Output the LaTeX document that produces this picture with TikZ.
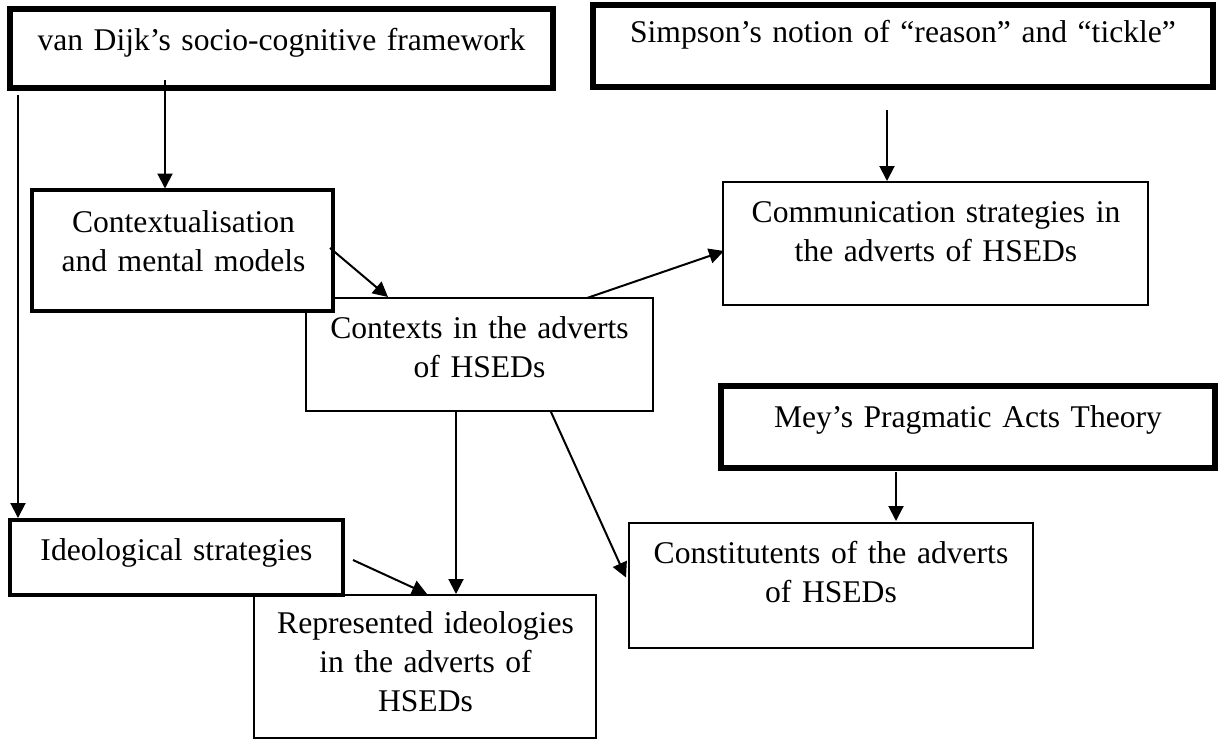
\documentclass[tikz,border=0pt]{standalone}
\usepackage{fontspec}
\setmainfont{Liberation Serif}
\usetikzlibrary{arrows.meta,calc}
\begin{document}
\begin{tikzpicture}[x=0.5pt,y=-0.5pt,
  box/.style={draw=black, fill=white, rectangle, inner sep=0pt, outer sep=0pt},
  thinbox/.style={box, line width=1pt},
  midbox/.style={box, line width=2pt},
  heavybox/.style={box, line width=3pt},
  txt/.style={inner sep=0pt, anchor=base, align=center, text width=260pt, font=\fontsize{15.8}{19.5}\selectfont},
  arr/.style={line width=1pt, -{Triangle[length=7.5pt,width=7.5pt]}}]
\useasboundingbox[fill=white] (0,0) rectangle (1225,740);
% boxes
\node[heavybox, minimum width=271.5pt, minimum height=39.5pt] (A) at (281.5,48.5) {};
\node[heavybox, minimum width=310pt, minimum height=41pt] (B) at (903,46) {};
\node[thinbox, minimum width=173.5pt, minimum height=56.5pt] (D) at (479.5,354.5) {};
\node[midbox, minimum width=150.5pt, minimum height=60.5pt] (C) at (182.5,250.5) {};
\node[thinbox, minimum width=212.5pt, minimum height=61.5pt] (F) at (935.5,243.5) {};
\node[heavybox, minimum width=247pt, minimum height=41pt] (G) at (968,427) {};
\node[thinbox, minimum width=171pt, minimum height=71.5pt] (H) at (425,666.5) {};
\node[midbox, minimum width=166.5pt, minimum height=37.5pt] (E) at (176.5,557.5) {};
\node[thinbox, minimum width=202pt, minimum height=62.5pt] (I) at (831,585.5) {};
% texts
\node[txt] (At) at (281.5,50) {van Dijk’s socio-cognitive framework};
\node[txt, text width=300pt] (Bt) at (903,42) {Simpson’s notion of “reason” and “tickle”};
\node[txt] (Ct) at (183.5,232) {Contextualisation\\and mental models};
\node[txt] (Dt) at (479.5,338) {Contexts in the adverts\\of HSEDs};
\node[txt] (Ft) at (936,222) {Communication strategies in\\the adverts of HSEDs};
\node[txt] (Gt) at (968,427) {Mey’s Pragmatic Acts Theory};
\node[txt] (Et) at (176.5,560) {Ideological strategies};
\node[txt] (Ht) at (425.5,633) {Represented ideologies\\in the adverts of\\HSEDs};
\node[txt] (It) at (831,563) {Constitutents of the adverts\\of HSEDs};
% connectors
\draw[arr] ($(A.south west)+(155,-8)$) -- ($(C.north west)+(133,-1.5)$);
\draw[arr] ($(A.south west)+(8,7)$) -- ($(E.north west)+(8,-2)$);
\draw[arr] ($(B.south west)+(294,23)$) -- ($(F.north west)+(164,-1)$);
\draw[arr] ($(C.east)+(-3,-2.5)$) -- ($(D.north west)+(82,-1)$);
\draw[arr] ($(D.north west)+(281,0)$) -- ($(F.west)+(1,7.5)$);
\draw[arr] ($(D.south west)+(150,0)$) -- ($(H.north west)+(202,-1)$);
\draw[arr] ($(E.east)+(10,2.5)$) -- ($(H.north west)+(173,-1)$);
\draw[arr] ($(D.south west)+(245,1)$) -- ($(I.west)+(-3,-8)$);
\draw[arr] ($(G.south west)+(175,4)$) -- ($(I.north west)+(267,-2)$);
\end{tikzpicture}
\end{document}
